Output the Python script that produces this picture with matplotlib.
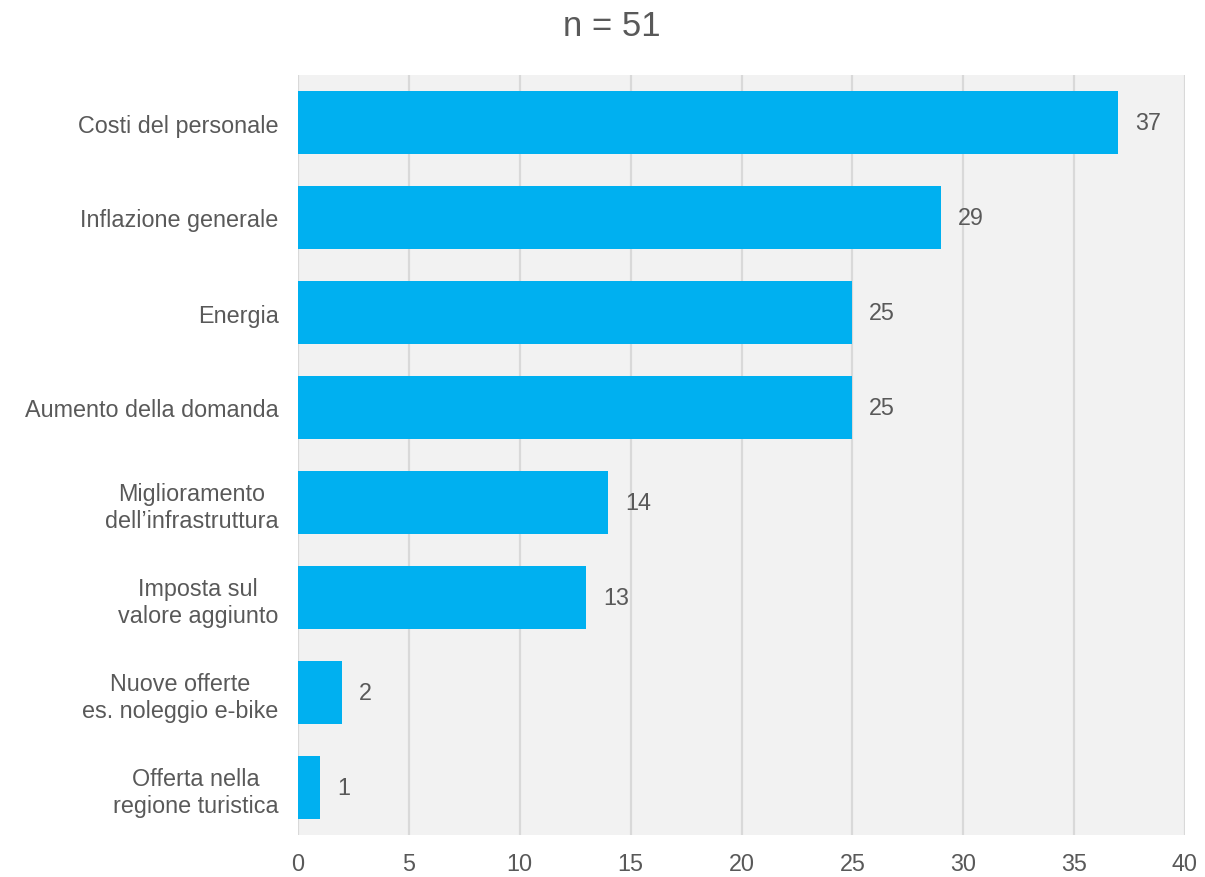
import matplotlib.pyplot as plt

plt.rcParams['font.family'] = ['Liberation Sans', 'DejaVu Sans']

categories = [
    "Costi del personale",
    "Inflazione generale",
    "Energia",
    "Aumento della domanda",
    "Miglioramento\ndell\u2019infrastruttura",
    "Imposta sul\nvalore aggiunto",
    "Nuove offerte\nes. noleggio e-bike",
    "Offerta nella\nregione turistica",
]
values = [37, 29, 25, 25, 14, 13, 2, 1]
x_ticks = [0, 5, 10, 15, 20, 25, 30, 35, 40]

text_col = "#595959"
bar_col = "#00B0F0"

fig = plt.figure(figsize=(12.05, 8.78), dpi=100)
ax = fig.add_axes([298 / 1205, 42 / 878, 887 / 1205, 760 / 878])
ax.set_facecolor("#F2F2F2")

pos = list(range(len(categories)))
ax.barh(pos, values, height=0.67, color=bar_col, zorder=3)

for y, v in zip(pos, values):
    ax.text(v + 0.75, y, str(v), va="center", ha="left", fontsize=16.8,
            color=text_col, zorder=4)

ax.set_xlim(0, 40)
ax.set_ylim(len(categories) - 0.5, -0.5)
ax.set_xticks(x_ticks)
ax.set_xticklabels([str(t) for t in x_ticks])
ax.set_yticks(pos)
ax.set_yticklabels(categories)
for lbl in ax.get_yticklabels():
    lbl.set_multialignment("center")
    lbl.set_linespacing(1.25)

ax.tick_params(axis="y", length=0, pad=14, labelsize=16.8, labelcolor=text_col)
ax.tick_params(axis="x", length=0, pad=12, labelsize=16.8, labelcolor=text_col)

ax.grid(axis="x", color="#D9D9D9", linewidth=1.6, zorder=1)
ax.grid(axis="y", visible=False)
for s in ax.spines.values():
    s.set_visible(False)

fig.text(612 / 1205, 1 - 27 / 878, "n = 51", ha="center", va="center",
         fontsize=25, color=text_col)

fig.savefig("out.png", dpi=100)
